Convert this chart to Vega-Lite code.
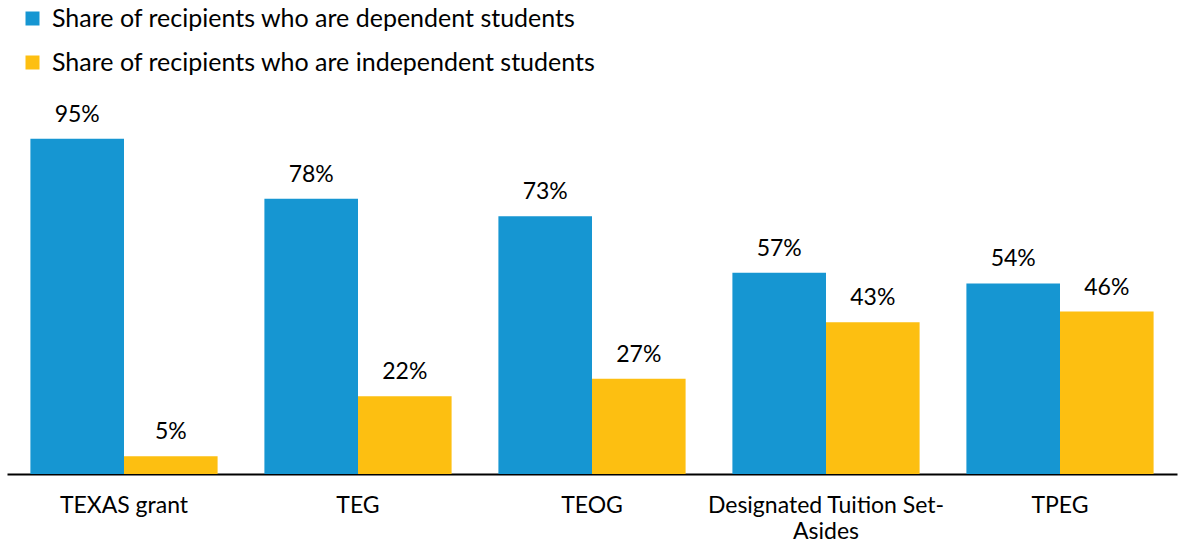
{
  "$schema": "https://vega.github.io/schema/vega-lite/v6.json",
  "autosize": {"type": "none"},
  "width": 1170,
  "height": 353,
  "padding": {"left": 7, "top": 121, "right": 1, "bottom": 70},
  "config": {
    "view": {"stroke": null},
    "font": "Lato",
    "text": {"font": "Lato"}
  },
  "data": {
    "values": [
      {"program": "TEXAS grant", "series": "Share of recipients who are dependent students", "value": 95},
      {"program": "TEXAS grant", "series": "Share of recipients who are independent students", "value": 5},
      {"program": "TEG", "series": "Share of recipients who are dependent students", "value": 78},
      {"program": "TEG", "series": "Share of recipients who are independent students", "value": 22},
      {"program": "TEOG", "series": "Share of recipients who are dependent students", "value": 73},
      {"program": "TEOG", "series": "Share of recipients who are independent students", "value": 27},
      {"program": "Designated Tuition Set-Asides", "series": "Share of recipients who are dependent students", "value": 57},
      {"program": "Designated Tuition Set-Asides", "series": "Share of recipients who are independent students", "value": 43},
      {"program": "TPEG", "series": "Share of recipients who are dependent students", "value": 54},
      {"program": "TPEG", "series": "Share of recipients who are independent students", "value": 46}
    ]
  },
  "encoding": {
    "x": {
      "field": "program",
      "type": "nominal",
      "sort": null,
      "scale": {"paddingInner": 0.2, "paddingOuter": 0.1},
      "axis": {
        "title": null,
        "labelAngle": 0,
        "ticks": false,
        "domainColor": "#000000",
        "domainWidth": 2,
        "labelFont": "Lato",
        "labelFontSize": 23,
        "labelColor": "#000000",
        "labelPadding": 20,
        "labelLineHeight": 26,
        "labelLimit": 400,
        "labelExpr": "datum.value == 'Designated Tuition Set-Asides' ? ['Designated Tuition Set-', 'Asides'] : datum.value"
      }
    },
    "xOffset": {"field": "series", "type": "nominal", "sort": null},
    "y": {
      "field": "value",
      "type": "quantitative",
      "scale": {"domain": [0, 100], "nice": false},
      "axis": null
    }
  },
  "layer": [
    {
      "mark": {"type": "bar"},
      "encoding": {
        "color": {
          "field": "series",
          "type": "nominal",
          "sort": null,
          "scale": {"range": ["#1696d2", "#fdbf11"]},
          "legend": {
            "title": null,
            "orient": "none",
            "legendX": 13,
            "legendY": -115,
            "symbolType": "square",
            "symbolSize": 196,
            "symbolStrokeWidth": 0,
            "labelFont": "Lato",
            "labelFontSize": 25,
            "labelColor": "#000000",
            "labelLimit": 800,
            "labelOffset": 7,
            "rowPadding": 18
          }
        }
      }
    },
    {
      "mark": {"type": "text", "baseline": "alphabetic", "dy": -17, "fontSize": 23, "color": "#000000", "font": "Lato"},
      "encoding": {
        "text": {"field": "label", "type": "nominal"},
        "detail": {"field": "series"}
      },
      "transform": [{"calculate": "datum.value + '%'", "as": "label"}]
    }
  ]
}
